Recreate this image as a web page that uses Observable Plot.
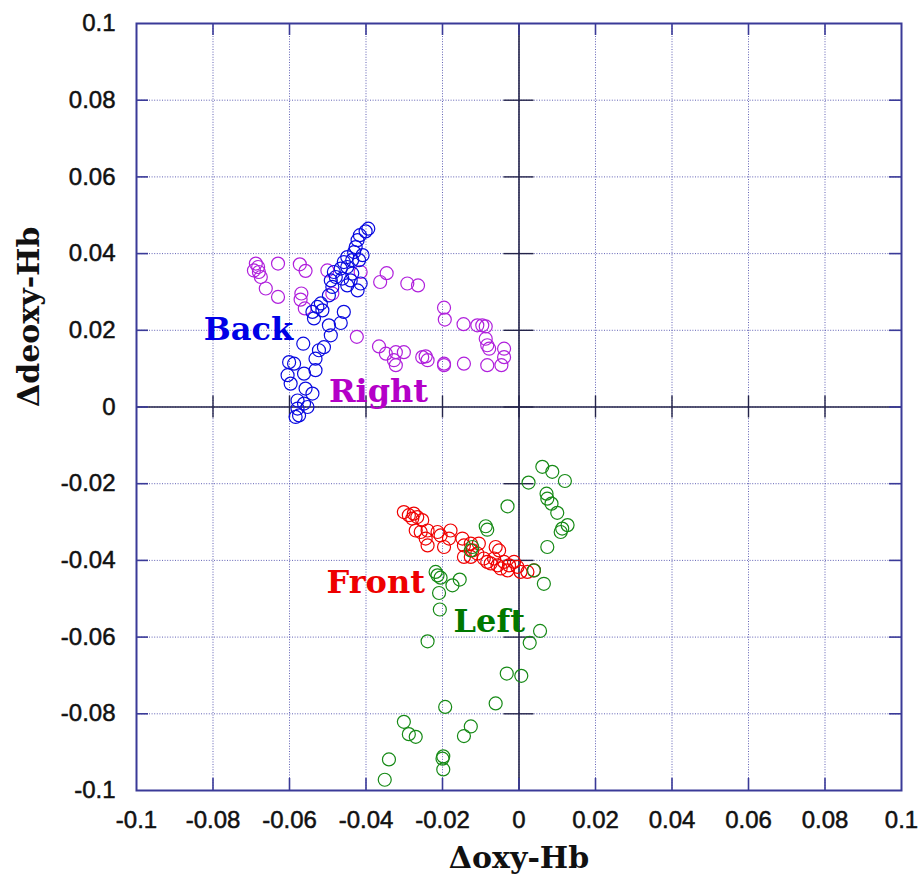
<!DOCTYPE html>
<html>
<head>
<meta charset="utf-8">
<script src="https://cdn.jsdelivr.net/npm/d3@7"></script>
<script src="https://cdn.jsdelivr.net/npm/@observablehq/plot@0.6"></script>
<style>
  html, body { margin: 0; padding: 0; background: #fff; }
</style>
</head>
<body>
<div id="chart"></div>
<script>
// ---- data (Δoxy-Hb, Δdeoxy-Hb) ----
const back = [
  [-0.0394,0.0465],[-0.0401,0.0458],[-0.0416,0.0448],[-0.0422,0.0435],[-0.0427,0.0417],
  [-0.0431,0.0404],[-0.0449,0.0391],[-0.0409,0.0396],[-0.0436,0.0383],[-0.0458,0.0378],
  [-0.0418,0.0383],[-0.0449,0.0365],[-0.0466,0.0361],[-0.0484,0.0352],[-0.0436,0.0348],
  [-0.0479,0.0339],[-0.0462,0.0335],[-0.0440,0.0330],[-0.0492,0.0330],[-0.0414,0.0322],
  [-0.0449,0.0317],[-0.0422,0.0304],[-0.0488,0.0313],[-0.0497,0.0291],[-0.0518,0.0270],
  [-0.0527,0.0261],[-0.0540,0.0248],[-0.0514,0.0252],[-0.0458,0.0248],[-0.0536,0.0231],
  [-0.0466,0.0219],[-0.0497,0.0213],[-0.0492,0.0187],[-0.0564,0.0165],[-0.0510,0.0156],
  [-0.0523,0.0148],[-0.0532,0.0126],[-0.0601,0.0117],[-0.0588,0.0113],[-0.0532,0.0096],
  [-0.0605,0.0083],[-0.0562,0.0087],[-0.0597,0.0061],[-0.0558,0.0048],[-0.0540,0.0035],
  [-0.0579,0.0017],[-0.0562,0.0009],[-0.0553,0.0000],[-0.0579,-0.0004],[-0.0575,-0.0022],
  [-0.0584,-0.0026]
];
const right = [
  [-0.0688,0.0374],[-0.0682,0.0365],[-0.0693,0.0356],[-0.0680,0.0352],[-0.0675,0.0339],
  [-0.0630,0.0374],[-0.0662,0.0309],[-0.0630,0.0287],[-0.0573,0.0372],[-0.0558,0.0355],
  [-0.0569,0.0296],[-0.0571,0.0280],[-0.0560,0.0257],[-0.0501,0.0356],[-0.0488,0.0296],
  [-0.0414,0.0352],[-0.0346,0.0349],[-0.0363,0.0326],[-0.0292,0.0322],[-0.0264,0.0317],
  [-0.0196,0.0259],[-0.0194,0.0228],[-0.0145,0.0216],[-0.0109,0.0213],[-0.0096,0.0213],
  [-0.0087,0.0210],[-0.0087,0.0178],[-0.0083,0.0161],[-0.0078,0.0152],[-0.0039,0.0152],
  [-0.0039,0.0130],[-0.0046,0.0109],[-0.0083,0.0109],[-0.0144,0.0113],[-0.0196,0.0113],
  [-0.0196,0.0109],[-0.0244,0.0132],[-0.0253,0.0130],[-0.0239,0.0122],[-0.0301,0.0143],
  [-0.0322,0.0143],[-0.0327,0.0122],[-0.0322,0.0109],[-0.0348,0.0139],[-0.0366,0.0158],
  [-0.0424,0.0183]
];
const front = [
  [-0.0301,-0.0274],[-0.0288,-0.0282],[-0.0275,-0.0278],[-0.0266,-0.0287],[-0.0253,-0.0295],
  [-0.0279,-0.0291],[-0.0270,-0.0322],[-0.0257,-0.0326],[-0.0239,-0.0322],[-0.0244,-0.0343],
  [-0.0239,-0.0361],[-0.0213,-0.0326],[-0.0205,-0.0335],[-0.0196,-0.0365],[-0.0183,-0.0343],
  [-0.0179,-0.0322],[-0.0148,-0.0343],[-0.0144,-0.0361],[-0.0126,-0.0356],[-0.0122,-0.0374],
  [-0.0105,-0.0356],[-0.0144,-0.0391],[-0.0126,-0.0391],[-0.0109,-0.0382],[-0.0092,-0.0395],
  [-0.0083,-0.0404],[-0.0061,-0.0365],[-0.0052,-0.0374],[-0.0065,-0.0395],[-0.0056,-0.0413],
  [-0.0039,-0.0404],[-0.0026,-0.0413],[-0.0013,-0.0404],[-0.0004,-0.0417],[0.0004,-0.0430],
  [0.0022,-0.0430],[0.0039,-0.0426],[-0.0030,-0.0426],[-0.0048,-0.0421],[-0.0074,-0.0408]
];
const left = [
  [0.0061,-0.0156],[0.0087,-0.0169],[0.0120,-0.0193],[0.0025,-0.0197],[-0.0030,-0.0259],
  [0.0072,-0.0226],[0.0074,-0.0239],[0.0085,-0.0252],[0.0100,-0.0276],[0.0127,-0.0308],
  [0.0113,-0.0317],[0.0109,-0.0326],[-0.0087,-0.0311],[-0.0083,-0.0320],[0.0074,-0.0365],
  [-0.0122,-0.0365],[-0.0126,-0.0374],[0.0039,-0.0426],[0.0065,-0.0461],[-0.0218,-0.0430],
  [-0.0213,-0.0439],[-0.0205,-0.0445],[-0.0174,-0.0465],[-0.0155,-0.0450],[-0.0209,-0.0485],
  [-0.0207,-0.0528],[-0.0239,-0.0611],[0.0055,-0.0584],[0.0028,-0.0615],[-0.0032,-0.0695],
  [0.0006,-0.0701],[-0.0061,-0.0773],[-0.0193,-0.0782],[-0.0301,-0.0821],[-0.0126,-0.0833],
  [-0.0144,-0.0858],[-0.0288,-0.0853],[-0.0270,-0.0860],[-0.0340,-0.0919],[-0.0198,-0.0911],
  [-0.0200,-0.0917],[-0.0198,-0.0945],[-0.0351,-0.0972]
];
const seriesLabels = [
  {name: "Back",  x: -0.0824, y: 0.0174,  color: "#0000e6"},
  {name: "Right", x: -0.0497, y: 0.0013,  color: "#b400c8"},
  {name: "Front", x: -0.0503, y: -0.0486, color: "#ee0000"},
  {name: "Left",  x: -0.0171, y: -0.0587, color: "#007800"}
];
const tickValues = [-0.1,-0.08,-0.06,-0.04,-0.02,0,0.02,0.04,0.06,0.08,0.1];
const tickLabels = ["-0.1","-0.08","-0.06","-0.04","-0.02","0","0.02","0.04","0.06","0.08","0.1"];
const xTitle = "Δoxy-Hb";
const yTitle = "Δdeoxy-Hb";

const W = 921, H = 879;
const mL = 136, mR = 20, mT = 23, mB = 89;
const frameH = H - mT - mB;
const frameW = W - mL - mR;
const tickLen = 12;

const gridStroke = "#4646a8";
const frameStroke = "#3a3a98";
const zeroStroke = "#24244a";
const labelFont = "Liberation Sans, Arial, sans-serif";
const serifFont = "DejaVu Serif, serif";

const ticks = tickValues.map((v, i) => ({v, label: tickLabels[i]}));
const inner = tickValues.filter(v => v > -0.1 && v < 0.1);

const dotOpts = (color) => ({x: d => d[0], y: d => d[1], r: 6.5, stroke: color, strokeWidth: 1.2, fill: "none"});

const chart = Plot.plot({
  width: W, height: H,
  marginLeft: mL, marginRight: mR, marginTop: mT, marginBottom: mB,
  x: {domain: [-0.1, 0.1], axis: null},
  y: {domain: [-0.1, 0.1], axis: null},
  style: {background: "#fff"},
  marks: [
    // dotted grid
    Plot.ruleX(inner, {x: d => d, stroke: gridStroke, strokeWidth: 1, strokeDasharray: "1,1.6", strokeOpacity: 0.85}),
    Plot.ruleY(inner, {y: d => d, stroke: gridStroke, strokeWidth: 1, strokeDasharray: "1,1.6", strokeOpacity: 0.85}),
    // zero axes
    Plot.ruleX([0], {x: d => d, stroke: zeroStroke, strokeWidth: 1.6}),
    Plot.ruleY([0], {y: d => d, stroke: zeroStroke, strokeWidth: 1.6}),
    // ticks on zero axes
    Plot.ruleY(inner, {y: d => d, x1: 0, x2: 0, insetLeft: -15, insetRight: -15, stroke: zeroStroke, strokeWidth: 1.4}),
    Plot.ruleX(inner, {x: d => d, y1: 0, y2: 0, insetTop: -11, insetBottom: -11, stroke: zeroStroke, strokeWidth: 1.4}),
    // border ticks (mirrored, inward)
    Plot.ruleX(inner, {x: d => d, insetTop: frameH - tickLen, stroke: frameStroke, strokeWidth: 1.6}),
    Plot.ruleX(inner, {x: d => d, insetBottom: frameH - tickLen, stroke: frameStroke, strokeWidth: 1.6}),
    Plot.ruleY(inner, {y: d => d, insetRight: frameW - tickLen, stroke: frameStroke, strokeWidth: 1.6}),
    Plot.ruleY(inner, {y: d => d, insetLeft: frameW - tickLen, stroke: frameStroke, strokeWidth: 1.6}),
    // frame
    Plot.frame({stroke: frameStroke, strokeWidth: 2}),
    // data
    Plot.dot(right, dotOpts("#b020dc")),
    Plot.dot(back, dotOpts("#0a0ae0")),
    Plot.dot(front, dotOpts("#f00000")),
    Plot.dot(left, dotOpts("#168a16")),
    // series labels
    Plot.text(seriesLabels, {x: "x", y: "y", text: "name", fill: "color", textAnchor: "start", lineAnchor: "bottom",
      fontFamily: serifFont, fontWeight: "bold", fontSize: 32}),
    // tick labels
    Plot.text(ticks, {x: "v", text: "label", frameAnchor: "bottom", lineAnchor: "bottom", dy: 37,
      fontFamily: labelFont, fontSize: 24, fill: "#111", stroke: "#111", strokeWidth: 0.5}),
    Plot.text(ticks, {y: "v", text: "label", frameAnchor: "left", textAnchor: "end", lineAnchor: "middle", dx: -21,
      fontFamily: labelFont, fontSize: 24, fill: "#111", stroke: "#111", strokeWidth: 0.5}),
    // axis titles
    Plot.text([xTitle], {text: d => d, frameAnchor: "bottom", lineAnchor: "bottom", dy: 77,
      fontFamily: serifFont, fontWeight: "bold", fontSize: 30, fill: "#111"}),
    Plot.text([yTitle], {text: d => d, frameAnchor: "left", rotate: -90, lineAnchor: "bottom", dx: -98,
      fontFamily: serifFont, fontWeight: "bold", fontSize: 30, fill: "#111"})
  ]
});
document.getElementById("chart").appendChild(chart);
</script>
</body>
</html>
